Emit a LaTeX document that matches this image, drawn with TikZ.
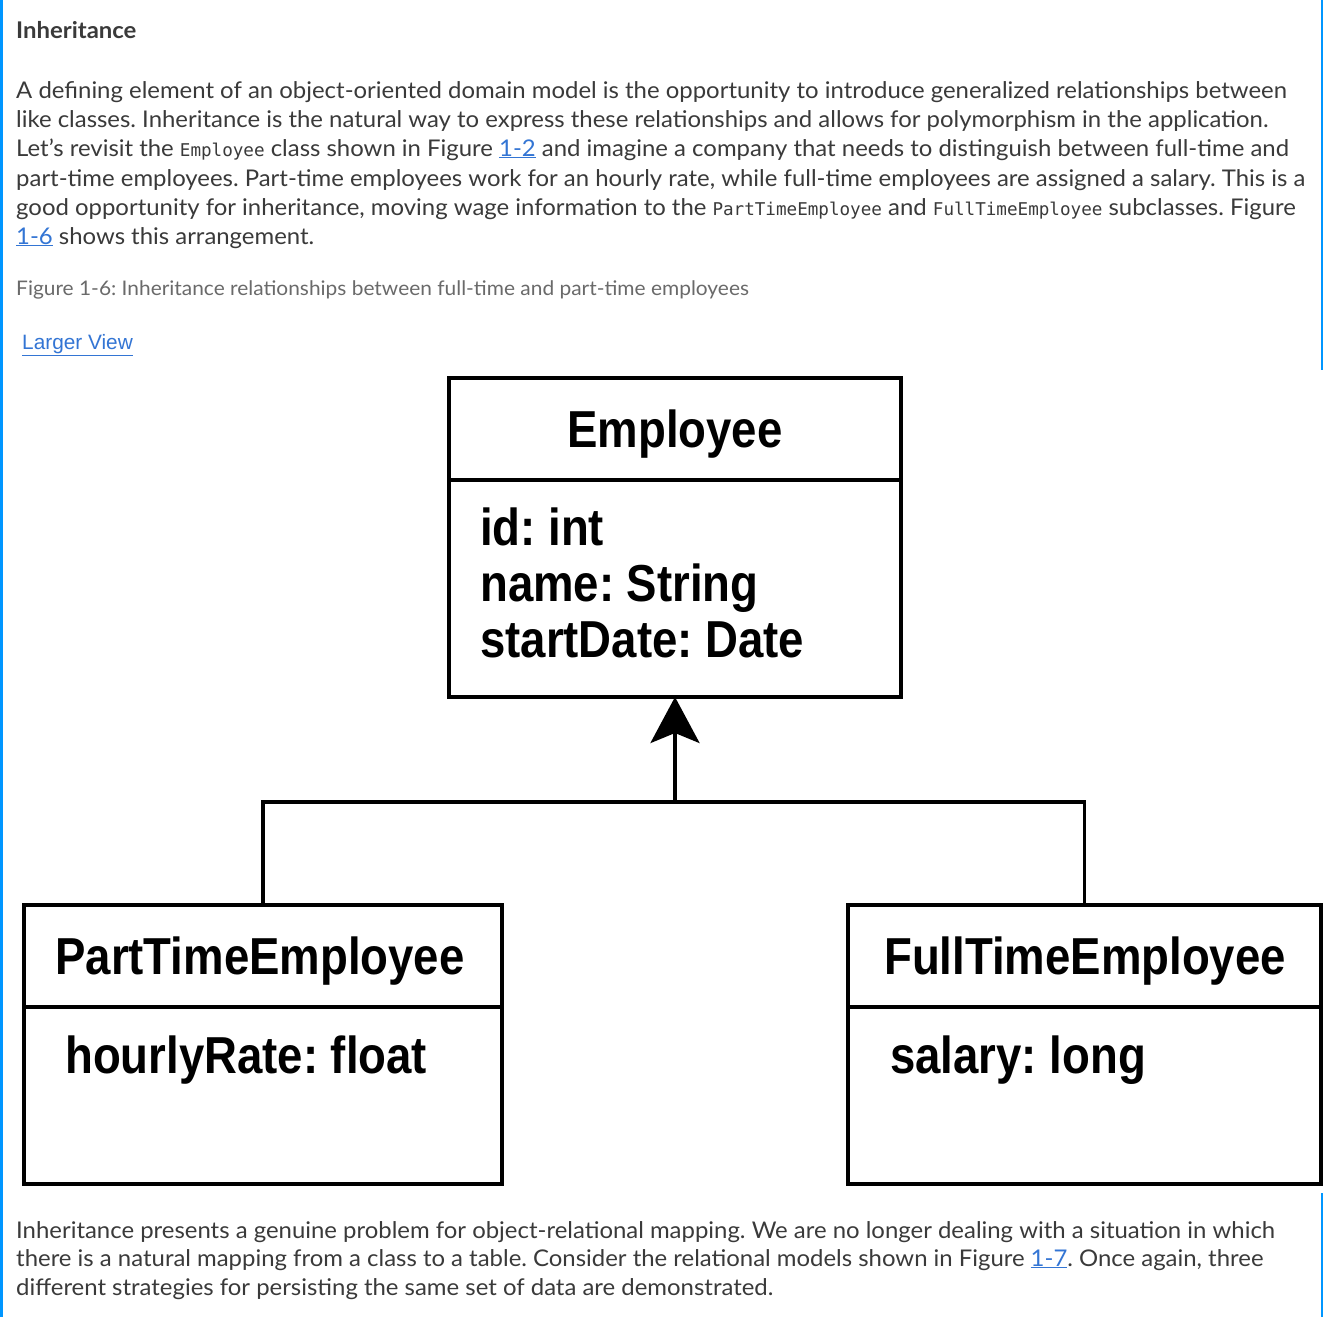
\documentclass[tikz,border=0pt]{standalone}
\usepackage{fontspec}
\setmainfont{Lato}[FakeStretch=1.04]
\newfontfamily\umlfont[FakeStretch=0.876]{Liberation Sans}
\newfontfamily\codefont{DejaVu Sans Mono}
\newfontfamily\linkfont{Liberation Sans}
\usetikzlibrary{arrows.meta}
\definecolor{bodytext}{HTML}{3A3A3A}
\definecolor{captiongray}{HTML}{6A6A6A}
\definecolor{linkblue}{HTML}{3375D4}
\definecolor{sidebar}{HTML}{0096FF}
\frenchspacing
\newcommand\code[1]{{\codefont\fontsize{17.6}{20}\selectfont #1}}
\newcommand\lnk[1]{\textcolor{linkblue}{\underline{#1}}}
\tikzset{
  bodyline/.style={anchor=base west, inner sep=0pt, text=bodytext, font=\fontsize{23}{27}\selectfont},
  headline/.style={anchor=base west, inner sep=0pt, text=bodytext, font=\bfseries\fontsize{23}{27}\selectfont},
  captionline/.style={anchor=base west, inner sep=0pt, text=captiongray, font=\fontsize{20.1}{24}\selectfont},
  umlbox/.style={draw=black, line width=4pt, anchor=north west, inner sep=0pt, outer sep=0pt, minimum width=#1},
  umlhead/.style={minimum height=102pt},
  umltitle/.style={anchor=base, inner sep=0pt, font=\umlfont\bfseries\fontsize{52}{56}\selectfont},
  umlattr/.style={anchor=base west, inner sep=0pt, font=\umlfont\bfseries\fontsize{52}{56}\selectfont},
  connector/.style={draw=black, line width=3.5pt},
}
\begin{document}
\begin{tikzpicture}[x=1pt,y=-1pt]
\useasboundingbox (0,0) rectangle (1335,1317);
\fill[white] (0,0) rectangle (1335,1317);
% page side rules
\fill[sidebar] (0,0) rectangle (2.5,1317);
\fill[sidebar] (1320.5,0) rectangle (1323,370);
\fill[sidebar] (1320.5,1193) rectangle (1323,1317);

% section text
\node[headline] (heading) at (16,38) {Inheritance};
\node[bodyline] (p1) at (16,98) {A defining element of an object-oriented domain model is the opportunity to introduce generalized relationships between};
\node[bodyline] (p2) at (16,127) {like classes. Inheritance is the natural way to express these relationships and allows for polymorphism in the application.};
\node[bodyline] (p3) at (16,156) {Let’s revisit the \code{Employee} class shown in Figure \lnk{1-2} and imagine a company that needs to distinguish between full-time and};
\node[bodyline] (p4) at (16,186) {part-time employees. Part-time employees work for an hourly rate, while full-time employees are assigned a salary. This is a};
\node[bodyline] (p5) at (16,215) {good opportunity for inheritance, moving wage information to the \code{PartTimeEmployee} and \code{FullTimeEmployee} subclasses. Figure};
\node[bodyline] (p6) at (16,244) {\lnk{1-6} shows this arrangement.};
\node[captionline] (caption) at (16,295) {Figure 1-6: Inheritance relationships between full-time and part-time employees};
\node[anchor=base west, inner sep=0pt, text=linkblue, font=\linkfont\fontsize{20.8}{24}\selectfont] (larger) at (22,349) {\underline{Larger View}};

% class boxes
\node[umlbox=452pt, umlhead] (emph) at (449,378) {};
\node[umlbox=452pt, minimum height=217pt] (empb) at (449,480) {};
\node[umlbox=478pt, umlhead] (parth) at (24,905) {};
\node[umlbox=478pt, minimum height=177pt] (partb) at (24,1007) {};
\node[umlbox=473pt, umlhead] (fullh) at (848,905) {};
\node[umlbox=473pt, minimum height=177pt] (fullb) at (848,1007) {};

% class names and attributes
\node[umltitle] (empname) at (675,447) {Employee};
\node[umlattr] (empid) at (480,545) {id: int};
\node[umlattr] (empnm) at (480,601) {name: String};
\node[umlattr] (empsd) at (480,657) {startDate: Date};
\node[umltitle] (partname) at (260,974) {PartTimeEmployee};
\node[umlattr] (partrate) at (65,1073) {hourlyRate: float};
\node[umltitle] (fullname) at (1085,974) {FullTimeEmployee};
\node[umlattr] (fullsal) at (890,1073) {salary: long};

% generalization connectors
\coordinate (joint) at (675,802);
\draw[connector] (parth.north) |- (joint) -| (fullh.north);
\draw[connector, -{Stealth[length=46pt,width=49pt,inset=10pt]}] (joint) -- (empb.south);

% closing paragraph
\node[bodyline] (q1) at (16,1238) {Inheritance presents a genuine problem for object-relational mapping. We are no longer dealing with a situation in which};
\node[bodyline] (q2) at (16,1266) {there is a natural mapping from a class to a table. Consider the relational models shown in Figure \lnk{1-7}. Once again, three};
\node[bodyline] (q3) at (16,1295) {different strategies for persisting the same set of data are demonstrated.};
\end{tikzpicture}
\end{document}
